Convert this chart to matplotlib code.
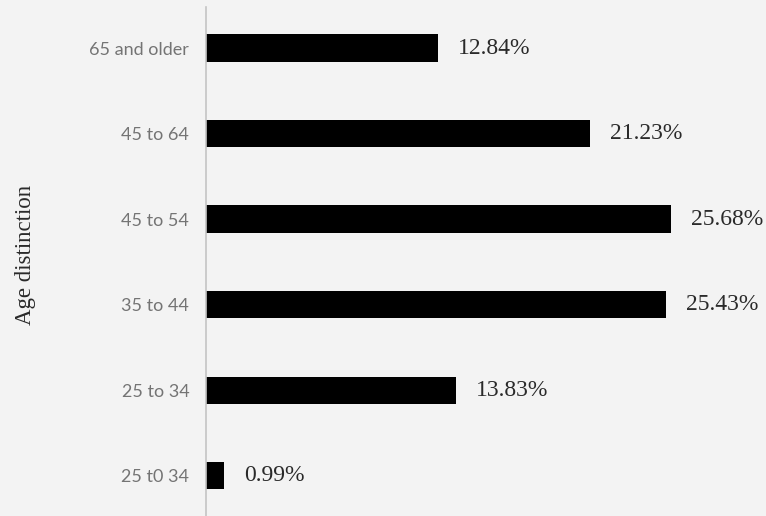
import matplotlib
matplotlib.use("Agg")
import matplotlib.pyplot as plt

# age groups, bottom to top as drawn
groups = ["25 t0 34", "25 to 34", "35 to 44", "45 to 54", "45 to 64", "65 and older"]
shares = [0.99, 13.83, 25.43, 25.68, 21.23, 12.84]

bg = "#f3f3f3"

fig = plt.figure(figsize=(7.66, 5.16), dpi=100, facecolor=bg)
ax = fig.add_axes([206 / 766, 0, 1 - 206 / 766, 509 / 516], facecolor=bg)

pos = range(len(groups))
ax.barh(pos, shares, height=0.32, color="black")

for y, v in zip(pos, shares):
    ax.text(v + 1.1, y, f"{v:.2f}%", va="center", ha="left",
            fontsize=17, family="Liberation Serif", color="#2a2a2a")

ax.set_xlim(0, 30.94)
ax.set_ylim(-0.47, 5.48)
ax.set_yticks(list(pos))
ax.set_yticklabels(groups, family="Lato", fontsize=13, color="#747474")
ax.tick_params(axis="y", length=0, pad=12)
ax.set_xticks([])

for s in ["top", "right", "bottom"]:
    ax.spines[s].set_visible(False)
ax.spines["left"].set_color("#c4c4c4")
ax.spines["left"].set_linewidth(1.2)

fig.text(26 / 766, 1 - 255 / 516, "Age distinction", rotation=90,
         ha="center", va="center", family="Liberation Serif",
         fontsize=16.5, color="#2a2a2a")

fig.savefig("out.png", dpi=100, facecolor=bg)
